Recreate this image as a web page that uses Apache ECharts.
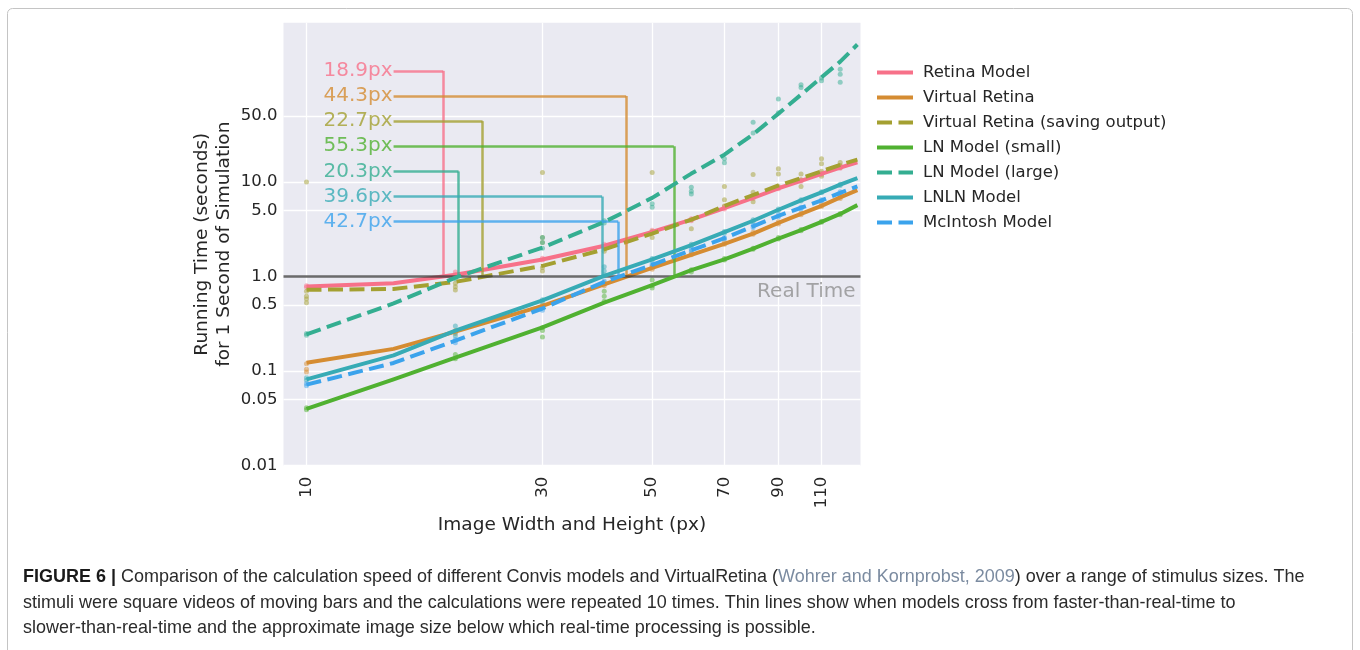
<!DOCTYPE html>
<html>
<head>
<meta charset="utf-8">
<script src="https://cdn.jsdelivr.net/npm/echarts@6/dist/echarts.min.js"></script>
<style>
html,body{margin:0;padding:0;background:#fff;}
#chart{width:1360px;height:650px;}
</style>
</head>
<body>
<div id="chart"></div>
<script>
// ---------- data ----------
const modelNames = ['Retina Model', 'Virtual Retina', 'Virtual Retina (saving output)',
  'LN Model (small)', 'LN Model (large)', 'LNLN Model', 'McIntosh Model'];
const lineSizes = [10, 15, 20, 30, 40, 50, 60, 70, 80, 90, 100, 110, 120, 130];
const retinaFit = [0.785, 0.85, 1.045, 1.52, 2.12, 2.97, 4.0, 5.3, 6.8, 8.6, 10.3, 12.2, 14.2, 16.2];
const virtualRetinaFit = [0.123, 0.172, 0.262, 0.49, 0.83, 1.24, 1.7, 2.22, 2.85, 3.7, 4.6, 5.6, 6.9, 8.2];
const virtualRetinaSavingFit = [0.725, 0.74, 0.88, 1.30, 1.94, 2.85, 4.0, 5.6, 7.3, 9.2, 11.0, 13.0, 15.2, 17.3];
const lnSmallFit = [0.040, 0.082, 0.139, 0.29, 0.53, 0.815, 1.17, 1.52, 1.98, 2.53, 3.1, 3.8, 4.6, 5.7];
const lnLargeFit = [0.245, 0.52, 0.975, 2.03, 3.78, 6.8, 12.3, 19.5, 32, 53, 84, 128, 188, 285];
const lnlnFit = [0.082, 0.147, 0.268, 0.56, 1.02, 1.52, 2.15, 2.95, 3.9, 5.1, 6.4, 7.8, 9.4, 11.0];
const mcintoshFit = [0.072, 0.122, 0.21, 0.46, 0.88, 1.33, 1.9, 2.55, 3.4, 4.4, 5.35, 6.4, 7.7, 9.0];

const retinaRuns = [[10,0.77],[10,0.80],[20,1.05],[20,1.12],[30,1.5],[30,1.56],[40,2.1],[40,2.2],[50,2.95],[50,3.1],[60,3.9],[60,4.1],[70,5.2],[70,5.5],[80,6.7],[80,7.0],[90,8.5],[90,8.8],[100,10.2],[100,10.6],[110,12.0],[110,12.5],[120,14.0],[120,14.6]];
const virtualRetinaRuns = [[10,0.098],[10,0.105],[10,0.12],[20,0.25],[20,0.27],[30,0.47],[30,0.5],[40,0.8],[40,0.84],[50,1.2],[50,1.27],[60,1.7],[60,1.76],[70,2.2],[70,2.3],[80,2.8],[80,2.95],[90,3.6],[90,3.8],[100,4.5],[100,4.7],[110,5.5],[110,5.8],[120,6.7],[120,7.1]];
const virtualRetinaSavingRuns = [[10,10.0],[10,0.53],[10,0.58],[10,0.62],[10,0.7],[20,0.72],[20,0.78],[20,0.85],[30,12.6],[30,1.15],[30,1.25],[30,2.3],[30,2.6],[40,1.85],[40,2.0],[50,12.6],[50,2.6],[50,3.0],[60,4.0],[60,3.2],[70,9.0],[70,6.5],[70,5.6],[80,12.0],[80,7.8],[80,6.2],[90,13.8],[90,12.2],[90,9.0],[100,12.2],[100,10.5],[100,9.0],[110,17.7],[110,15.6],[110,13.0],[110,11.5],[120,16.1],[120,15.0],[120,14.3]];
const lnSmallRuns = [[10,0.039],[10,0.041],[20,0.135],[20,0.15],[30,0.23],[30,0.27],[30,0.29],[40,0.55],[40,0.62],[40,0.7],[50,0.76],[50,0.8],[50,0.92],[60,1.12],[60,1.18],[70,1.5],[70,1.55],[80,1.95],[80,2.0],[90,2.5],[90,2.6],[100,3.05],[100,3.15],[110,3.75],[110,3.85],[120,4.5],[120,4.65]];
const lnLargeRuns = [[10,0.24],[10,0.25],[20,0.95],[20,1.0],[30,2.0],[30,2.3],[30,2.6],[40,3.7],[40,3.9],[50,5.4],[50,5.9],[60,7.5],[60,8.0],[60,8.8],[70,16.0],[70,17.6],[80,43],[80,33],[90,75.5],[90,54],[100,107],[100,100],[110,118],[110,126],[120,156],[120,138],[120,114]];
const lnlnRuns = [[10,0.08],[10,0.085],[20,0.235],[20,0.26],[20,0.3],[30,0.54],[30,0.57],[40,1.04],[40,1.15],[40,1.27],[50,1.48],[50,1.55],[60,2.1],[60,2.2],[70,2.9],[70,3.0],[80,3.8],[80,4.0],[90,5.0],[90,5.2],[100,6.3],[100,6.5],[110,7.7],[110,7.9],[120,9.2],[120,9.5]];
const mcintoshRuns = [[10,0.07],[10,0.074],[20,0.2],[20,0.215],[30,0.44],[30,0.47],[40,0.86],[40,0.9],[50,1.3],[50,1.36],[60,1.85],[60,1.95],[70,2.5],[70,2.6],[80,3.3],[80,3.5],[90,4.3],[90,4.5],[100,5.2],[100,5.4],[110,6.3],[110,6.5],[120,7.5],[120,7.9]];

const crossSizes = [18.9, 44.3, 22.7, 55.3, 20.3, 39.6, 42.7];
const crossLabels = ['18.9px', '44.3px', '22.7px', '55.3px', '20.3px', '39.6px', '42.7px'];
const realTimeValue = 1;

const xTicks = [10, 30, 50, 70, 90, 110];
const xTickLabels = ['10', '30', '50', '70', '90', '110'];
const yTicks = [0.01, 0.05, 0.1, 0.5, 1, 5, 10, 50];
const yTickLabels = ['0.01', '0.05', '0.1', '0.5', '1.0', '5.0', '10.0', '50.0'];

// ---------- styling / layout ----------
const colors = ['#f77189', '#d58c32', '#a4a031', '#50b131', '#34ae91', '#37abb5', '#3ba3ec'];
const dashed = [false, false, true, false, true, false, true];
const FONT = '"DejaVu Sans", sans-serif';
const TXT = '#262626';
const labelAnchorX = 15;     // where the annotation lines start (data x)
const labelTopY = 150;       // first annotation row (data y)
const labelStep = 1.844;     // ratio between annotation rows on log axis

const fits = [retinaFit, virtualRetinaFit, virtualRetinaSavingFit, lnSmallFit, lnLargeFit, lnlnFit, mcintoshFit];
const runs = [retinaRuns, virtualRetinaRuns, virtualRetinaSavingRuns, lnSmallRuns, lnLargeRuns, lnlnRuns, mcintoshRuns];

const series = [];
runs.forEach((d, i) => {
  series.push({
    type: 'scatter', name: modelNames[i] + ' runs', data: d, symbolSize: 5,
    itemStyle: { color: colors[i], opacity: 0.5 }, z: 1, silent: true
  });
});
fits.forEach((vals, i) => {
  const ly = labelTopY / Math.pow(labelStep, i);
  const mlData = [
    [{ coord: [labelAnchorX, ly], label: { show: true, position: 'start', distance: 1,
        formatter: crossLabels[i], color: colors[i], fontSize: 20, fontFamily: FONT, padding: [4, 0, 0, 0] } },
     { coord: [crossSizes[i], ly] }],
    [{ coord: [crossSizes[i], ly] }, { coord: [crossSizes[i], realTimeValue] }]
  ];
  if (i === fits.length - 1) {
    mlData.push({ yAxis: realTimeValue,
      lineStyle: { color: '#3a3a3a', width: 2.5, opacity: 0.75, type: 'solid' },
      label: { show: true, position: 'insideEndBottom', formatter: 'Real Time', distance: 5,
        color: '#8a8a8a', fontSize: 20, fontFamily: FONT } });
  }
  series.push({
    type: 'line', name: modelNames[i],
    data: lineSizes.map((x, k) => [x, vals[k]]),
    showSymbol: false, symbol: 'none', smooth: false,
    lineStyle: { color: colors[i], width: 4, type: dashed[i] ? [15, 6.5] : 'solid', cap: 'butt', join: 'round' },
    itemStyle: { color: colors[i] },
    z: 2 + i, silent: true,
    markLine: {
      silent: true, symbol: 'none', animation: false,
      lineStyle: { color: colors[i], width: 2.5, type: 'solid', opacity: 0.8 },
      label: { show: false },
      data: mlData
    }
  });
});

function nearestLabel(v, ticks, labels) {
  let best = 0, bd = Infinity;
  ticks.forEach((t, k) => { const d = Math.abs(Math.log(v) - Math.log(t)); if (d < bd) { bd = d; best = k; } });
  return labels[best];
}

// caption font sizing
const capFamily = '"Liberation Sans Narrow", "Liberation Sans", Arial, sans-serif';
const capLines = [
  ['FIGURE 6 |', ' Comparison of the calculation speed of different Convis models and VirtualRetina (', 'Wohrer and Kornprobst, 2009', ') over a range of stimulus sizes. The'],
  'stimuli were square videos of moving bars and the calculations were repeated 10 times. Thin lines show when models cross from faster-than-real-time to',
  'slower-than-real-time and the approximate image size below which real-time processing is possible.'
];
const cv = document.createElement('canvas').getContext('2d');
cv.font = 'bold 100px ' + capFamily;
let w1 = cv.measureText(capLines[0][0]).width;
cv.font = '100px ' + capFamily;
w1 += cv.measureText(capLines[0][1] + capLines[0][2] + capLines[0][3]).width;
const capSize = Math.min(22, Math.max(12, 100 * 1282 / w1));

const chart = echarts.init(document.getElementById('chart'), null, { renderer: 'canvas' });
chart.setOption({
  animation: false,
  backgroundColor: '#ffffff',
  textStyle: { fontFamily: FONT },
  grid: { left: 283.5, top: 22.7, width: 577, height: 443, show: true,
    backgroundColor: '#EAEAF2', borderWidth: 0, containLabel: false },
  xAxis: {
    type: 'log', logBase: 10, min: 8.985, max: 131.9,
    name: 'Image Width and Height (px)', nameLocation: 'middle', nameGap: 42,
    nameTextStyle: { fontSize: 18.5, color: TXT, fontFamily: FONT },
    axisLine: { show: false },
    axisTick: { show: false, customValues: xTicks },
    axisLabel: { customValues: xTicks, rotate: 90, margin: 11, fontSize: 16.5, color: TXT, fontFamily: FONT,
      formatter: v => nearestLabel(v, xTicks, xTickLabels) },
    splitLine: { show: true, lineStyle: { color: '#ffffff', width: 1.3 } },
    minorTick: { show: false }, minorSplitLine: { show: false }
  },
  yAxis: {
    type: 'log', logBase: 10, min: 0.01, max: 485,
    name: 'Running Time (seconds)\nfor 1 Second of Simulation', nameLocation: 'middle', nameGap: 49,
    nameTextStyle: { fontSize: 18.5, color: TXT, fontFamily: FONT, lineHeight: 21.5 },
    axisLine: { show: false },
    axisTick: { show: false, customValues: yTicks },
    axisLabel: { customValues: yTicks, margin: 6, fontSize: 16.5, color: TXT, fontFamily: FONT,
      padding: [4, 0, 0, 0],
      formatter: v => nearestLabel(v, yTicks, yTickLabels) },
    splitLine: { show: true, lineStyle: { color: '#ffffff', width: 1.3 } },
    minorTick: { show: false }, minorSplitLine: { show: false }
  },
  legend: {
    orient: 'vertical', left: 875, top: 64, padding: 0,
    itemWidth: 36, itemHeight: 14, itemGap: 8,
    data: modelNames, selectedMode: false,
    itemStyle: { opacity: 0 },
    lineStyle: { width: 4 },
    textStyle: { fontSize: 16.5, color: TXT, fontFamily: FONT, padding: [0, 0, 0, 5] }
  },
  series: series,
  graphic: [
    { type: 'rect', silent: true, shape: { x: 7.5, y: 8.5, width: 1345, height: 700, r: 5 },
      style: { fill: 'none', stroke: '#c4c4c4', lineWidth: 1 } },
    { type: 'text', silent: true, x: 23, y: 577,
      style: { text: '{b|' + capLines[0][0] + '}' + capLines[0][1] + '{l|' + capLines[0][2] + '}' + capLines[0][3],
        fontFamily: capFamily, fontSize: capSize, fill: '#2b2b2b', verticalAlign: 'middle',
        rich: { b: { fontWeight: 'bold', fontFamily: capFamily, fontSize: capSize, fill: '#1a1a1a' },
                l: { fontFamily: capFamily, fontSize: capSize, fill: '#7b8ba0' } } } },
    { type: 'text', silent: true, x: 23, y: 603,
      style: { text: capLines[1], fontFamily: capFamily, fontSize: capSize, fill: '#2b2b2b', verticalAlign: 'middle' } },
    { type: 'text', silent: true, x: 23, y: 628,
      style: { text: capLines[2], fontFamily: capFamily, fontSize: capSize, fill: '#2b2b2b', verticalAlign: 'middle' } }
  ]
});
</script>
</body>
</html>
